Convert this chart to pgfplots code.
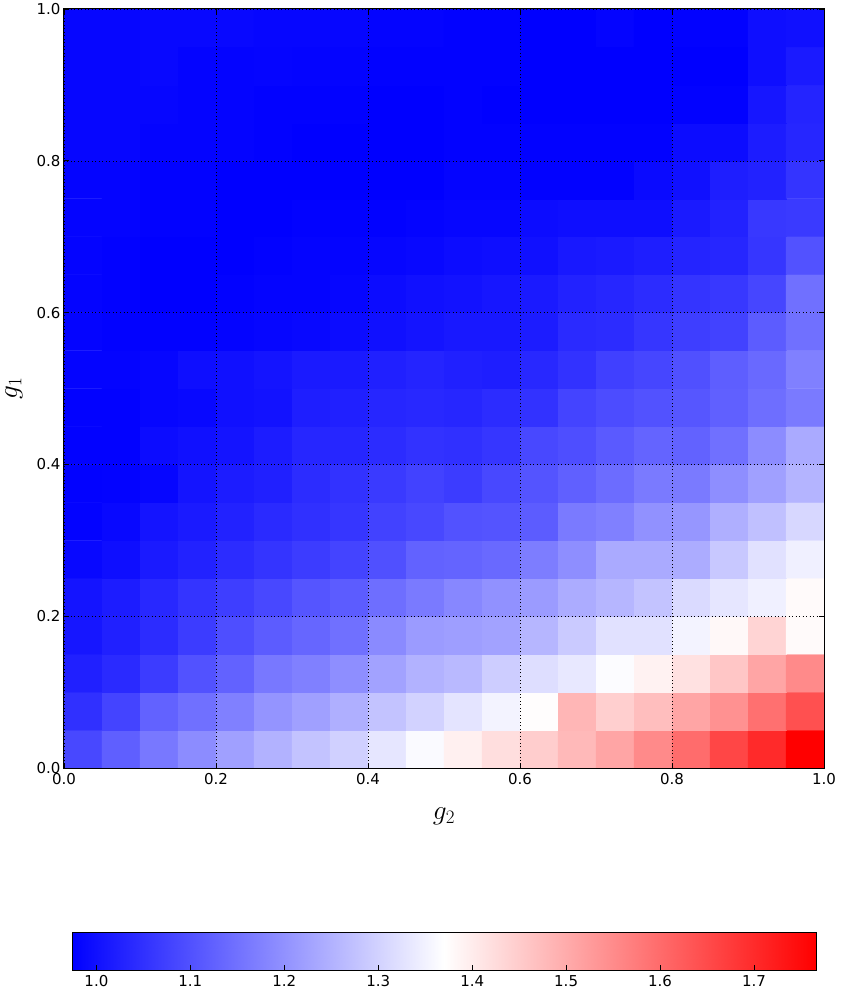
\documentclass[border=0pt]{standalone}
\usepackage{fontspec}
\setmainfont{DejaVu Sans}
\usepackage{pgfplots}
\pgfplotsset{compat=1.18}
\pgfplotsset{
  tick label style={font=\fontsize{15}{18}\selectfont},
  /pgf/number format/assume math mode=true,
  /pgf/number format/fixed,
  /pgf/number format/fixed zerofill,
  /pgf/number format/precision=1,
  colormap={bwr}{rgb=(0,0,1) rgb=(1,1,1) rgb=(1,0,0)},
}
\begin{document}
\begin{tikzpicture}
\useasboundingbox (-64pt,-230pt) rectangle (783pt,768pt);
\begin{axis}[
  at={(0,0)}, anchor=south west,
  scale only axis, width=760pt, height=759pt,
  xmin=0, xmax=1, ymin=0, ymax=1,
  xtick={0,0.2,0.4,0.6,0.8,1}, ytick={0,0.2,0.4,0.6,0.8,1},
  tick align=inside, major tick length=5pt,
  tick style={black,line width=0.7pt},
  axis line style={line width=1pt},
  xmajorgrids, ymajorgrids,
  grid style={black,line width=0.5pt,dash pattern=on 1pt off 2.5pt},
  axis on top,
  xlabel={\fontsize{24}{28}\selectfont $g_2$},
  ylabel={\fontsize{24}{28}\selectfont $g_1$},
  xlabel style={at={(axis description cs:0.5,0)},anchor=center,yshift=-48pt,scale=1.1},
  ylabel style={at={(axis description cs:0,0.5)},anchor=center,yshift=50pt,scale=1.1},
  xticklabel style={yshift=-2pt},
  point meta min=0.974, point meta max=1.766,
]
\addplot[matrix plot*, mesh/cols=20, point meta=explicit] table[row sep=\\, meta=v] {
x y v\\
0.025 0.025 1.086\\ 0.075 0.025 1.122\\ 0.125 0.025 1.160\\ 0.175 0.025 1.191\\ 0.225 0.025 1.222\\ 0.275 0.025 1.250\\ 0.325 0.025 1.277\\ 0.375 0.025 1.297\\ 0.425 0.025 1.331\\ 0.475 0.025 1.362\\ 0.525 0.025 1.393\\ 0.575 0.025 1.421\\ 0.625 0.025 1.448\\ 0.675 0.025 1.479\\ 0.725 0.025 1.510\\ 0.775 0.025 1.552\\ 0.825 0.025 1.598\\ 0.875 0.025 1.657\\ 0.925 0.025 1.701\\ 0.975 0.025 1.766\\
0.025 0.075 1.049\\ 0.075 0.075 1.080\\ 0.125 0.075 1.126\\ 0.175 0.075 1.148\\ 0.225 0.075 1.173\\ 0.275 0.075 1.204\\ 0.325 0.075 1.222\\ 0.375 0.075 1.246\\ 0.425 0.075 1.277\\ 0.475 0.075 1.300\\ 0.525 0.075 1.328\\ 0.575 0.075 1.351\\ 0.625 0.075 1.373\\ 0.675 0.075 1.483\\ 0.725 0.075 1.444\\ 0.775 0.075 1.471\\ 0.825 0.075 1.510\\ 0.875 0.075 1.541\\ 0.925 0.075 1.592\\ 0.975 0.075 1.642\\
0.025 0.125 1.024\\ 0.075 0.125 1.039\\ 0.125 0.125 1.067\\ 0.175 0.125 1.101\\ 0.225 0.125 1.126\\ 0.275 0.125 1.160\\ 0.325 0.125 1.173\\ 0.375 0.125 1.195\\ 0.425 0.125 1.226\\ 0.475 0.125 1.250\\ 0.525 0.125 1.261\\ 0.575 0.125 1.292\\ 0.625 0.125 1.319\\ 0.675 0.125 1.334\\ 0.725 0.125 1.365\\ 0.775 0.125 1.390\\ 0.825 0.125 1.417\\ 0.875 0.125 1.459\\ 0.925 0.125 1.510\\ 0.975 0.125 1.552\\
0.025 0.175 1.008\\ 0.075 0.175 1.024\\ 0.125 0.175 1.042\\ 0.175 0.175 1.067\\ 0.225 0.175 1.095\\ 0.275 0.175 1.117\\ 0.325 0.175 1.132\\ 0.375 0.175 1.148\\ 0.425 0.175 1.188\\ 0.475 0.175 1.215\\ 0.525 0.175 1.219\\ 0.575 0.175 1.226\\ 0.625 0.175 1.257\\ 0.675 0.175 1.288\\ 0.725 0.175 1.323\\ 0.775 0.175 1.323\\ 0.825 0.175 1.351\\ 0.875 0.175 1.381\\ 0.925 0.175 1.437\\ 0.975 0.175 1.378\\
0.025 0.225 1.005\\ 0.075 0.225 1.017\\ 0.125 0.225 1.036\\ 0.175 0.225 1.055\\ 0.225 0.225 1.070\\ 0.275 0.225 1.086\\ 0.325 0.225 1.106\\ 0.375 0.225 1.117\\ 0.425 0.225 1.145\\ 0.475 0.225 1.163\\ 0.525 0.225 1.184\\ 0.575 0.225 1.199\\ 0.625 0.225 1.215\\ 0.675 0.225 1.241\\ 0.725 0.225 1.257\\ 0.775 0.225 1.277\\ 0.825 0.225 1.313\\ 0.875 0.225 1.331\\ 0.925 0.225 1.347\\ 0.975 0.225 1.378\\
0.025 0.275 0.986\\ 0.075 0.275 0.996\\ 0.125 0.275 1.014\\ 0.175 0.275 1.027\\ 0.225 0.275 1.042\\ 0.275 0.275 1.055\\ 0.325 0.275 1.067\\ 0.375 0.275 1.080\\ 0.425 0.275 1.098\\ 0.475 0.275 1.126\\ 0.525 0.275 1.129\\ 0.575 0.275 1.137\\ 0.625 0.275 1.168\\ 0.675 0.275 1.195\\ 0.725 0.275 1.238\\ 0.775 0.275 1.238\\ 0.825 0.275 1.241\\ 0.875 0.275 1.285\\ 0.925 0.275 1.323\\ 0.975 0.275 1.347\\
0.025 0.325 0.979\\ 0.075 0.325 0.986\\ 0.125 0.325 1.005\\ 0.175 0.325 1.014\\ 0.225 0.325 1.027\\ 0.275 0.325 1.039\\ 0.325 0.325 1.049\\ 0.375 0.325 1.058\\ 0.425 0.325 1.076\\ 0.475 0.325 1.086\\ 0.525 0.325 1.101\\ 0.575 0.325 1.104\\ 0.625 0.325 1.117\\ 0.675 0.325 1.163\\ 0.725 0.325 1.173\\ 0.775 0.325 1.199\\ 0.825 0.325 1.207\\ 0.875 0.325 1.246\\ 0.925 0.325 1.272\\ 0.975 0.325 1.308\\
0.025 0.375 0.977\\ 0.075 0.375 0.979\\ 0.125 0.375 0.983\\ 0.175 0.375 1.005\\ 0.225 0.375 1.017\\ 0.275 0.375 1.024\\ 0.325 0.375 1.042\\ 0.375 0.375 1.052\\ 0.425 0.375 1.064\\ 0.475 0.375 1.076\\ 0.525 0.375 1.067\\ 0.575 0.375 1.086\\ 0.625 0.375 1.104\\ 0.675 0.375 1.123\\ 0.725 0.375 1.142\\ 0.775 0.375 1.163\\ 0.825 0.375 1.163\\ 0.875 0.375 1.195\\ 0.925 0.375 1.222\\ 0.975 0.375 1.254\\
0.025 0.425 0.977\\ 0.075 0.425 0.977\\ 0.125 0.425 0.993\\ 0.175 0.425 0.999\\ 0.225 0.425 1.005\\ 0.275 0.425 1.017\\ 0.325 0.425 1.033\\ 0.375 0.425 1.033\\ 0.425 0.425 1.042\\ 0.475 0.425 1.052\\ 0.525 0.425 1.049\\ 0.575 0.425 1.058\\ 0.625 0.425 1.086\\ 0.675 0.425 1.095\\ 0.725 0.425 1.114\\ 0.775 0.425 1.129\\ 0.825 0.425 1.126\\ 0.875 0.425 1.148\\ 0.925 0.425 1.191\\ 0.975 0.425 1.238\\
0.025 0.475 0.977\\ 0.075 0.475 0.977\\ 0.125 0.475 0.983\\ 0.175 0.475 0.986\\ 0.225 0.475 0.999\\ 0.275 0.475 1.002\\ 0.325 0.475 1.021\\ 0.375 0.475 1.024\\ 0.425 0.475 1.033\\ 0.475 0.475 1.036\\ 0.525 0.475 1.033\\ 0.575 0.475 1.042\\ 0.625 0.475 1.052\\ 0.675 0.475 1.080\\ 0.725 0.475 1.092\\ 0.775 0.475 1.101\\ 0.825 0.475 1.108\\ 0.875 0.475 1.123\\ 0.925 0.475 1.145\\ 0.975 0.475 1.163\\
0.025 0.525 0.980\\ 0.075 0.525 0.980\\ 0.125 0.525 0.983\\ 0.175 0.525 0.996\\ 0.225 0.525 0.999\\ 0.275 0.525 1.005\\ 0.325 0.525 1.014\\ 0.375 0.525 1.014\\ 0.425 0.525 1.024\\ 0.475 0.525 1.030\\ 0.525 0.525 1.024\\ 0.575 0.525 1.021\\ 0.625 0.525 1.036\\ 0.675 0.525 1.052\\ 0.725 0.525 1.073\\ 0.775 0.525 1.083\\ 0.825 0.525 1.098\\ 0.875 0.525 1.120\\ 0.925 0.525 1.137\\ 0.975 0.525 1.173\\
0.025 0.575 0.980\\ 0.075 0.575 0.977\\ 0.125 0.575 0.977\\ 0.175 0.575 0.977\\ 0.225 0.575 0.980\\ 0.275 0.575 0.983\\ 0.325 0.575 0.986\\ 0.375 0.575 0.993\\ 0.425 0.575 0.999\\ 0.475 0.575 1.005\\ 0.525 0.575 1.011\\ 0.575 0.575 1.011\\ 0.625 0.575 1.017\\ 0.675 0.575 1.039\\ 0.725 0.575 1.042\\ 0.775 0.575 1.058\\ 0.825 0.575 1.070\\ 0.875 0.575 1.076\\ 0.925 0.575 1.117\\ 0.975 0.575 1.148\\
0.025 0.625 0.980\\ 0.075 0.625 0.977\\ 0.125 0.625 0.974\\ 0.175 0.625 0.974\\ 0.225 0.625 0.977\\ 0.275 0.625 0.980\\ 0.325 0.625 0.980\\ 0.375 0.625 0.983\\ 0.425 0.625 0.993\\ 0.475 0.625 0.999\\ 0.525 0.625 1.002\\ 0.575 0.625 1.008\\ 0.625 0.625 1.014\\ 0.675 0.625 1.027\\ 0.725 0.625 1.033\\ 0.775 0.625 1.042\\ 0.825 0.625 1.055\\ 0.875 0.625 1.061\\ 0.925 0.625 1.083\\ 0.975 0.625 1.148\\
0.025 0.675 0.980\\ 0.075 0.675 0.977\\ 0.125 0.675 0.974\\ 0.175 0.675 0.974\\ 0.225 0.675 0.974\\ 0.275 0.675 0.977\\ 0.325 0.675 0.980\\ 0.375 0.675 0.980\\ 0.425 0.675 0.983\\ 0.475 0.675 0.986\\ 0.525 0.675 0.993\\ 0.575 0.675 0.996\\ 0.625 0.675 0.999\\ 0.675 0.675 1.011\\ 0.725 0.675 1.014\\ 0.775 0.675 1.021\\ 0.825 0.675 1.030\\ 0.875 0.675 1.033\\ 0.925 0.675 1.058\\ 0.975 0.675 1.101\\
0.025 0.725 0.980\\ 0.075 0.725 0.980\\ 0.125 0.725 0.977\\ 0.175 0.725 0.977\\ 0.225 0.725 0.974\\ 0.275 0.725 0.974\\ 0.325 0.725 0.977\\ 0.375 0.725 0.977\\ 0.425 0.725 0.977\\ 0.475 0.725 0.980\\ 0.525 0.725 0.983\\ 0.575 0.725 0.983\\ 0.625 0.725 0.993\\ 0.675 0.725 0.996\\ 0.725 0.725 0.996\\ 0.775 0.725 0.996\\ 0.825 0.725 1.014\\ 0.875 0.725 1.027\\ 0.925 0.725 1.061\\ 0.975 0.725 1.064\\
0.025 0.775 0.980\\ 0.075 0.775 0.980\\ 0.125 0.775 0.977\\ 0.175 0.775 0.977\\ 0.225 0.775 0.974\\ 0.275 0.775 0.974\\ 0.325 0.775 0.974\\ 0.375 0.775 0.974\\ 0.425 0.775 0.974\\ 0.475 0.775 0.974\\ 0.525 0.775 0.980\\ 0.575 0.775 0.980\\ 0.625 0.775 0.977\\ 0.675 0.775 0.977\\ 0.725 0.775 0.977\\ 0.775 0.775 0.990\\ 0.825 0.775 0.999\\ 0.875 0.775 1.021\\ 0.925 0.775 1.027\\ 0.975 0.775 1.055\\
0.025 0.825 0.983\\ 0.075 0.825 0.983\\ 0.125 0.825 0.980\\ 0.175 0.825 0.980\\ 0.225 0.825 0.980\\ 0.275 0.825 0.977\\ 0.325 0.825 0.974\\ 0.375 0.825 0.974\\ 0.425 0.825 0.974\\ 0.475 0.825 0.974\\ 0.525 0.825 0.977\\ 0.575 0.825 0.977\\ 0.625 0.825 0.977\\ 0.675 0.825 0.977\\ 0.725 0.825 0.977\\ 0.775 0.825 0.977\\ 0.825 0.825 0.993\\ 0.875 0.825 0.993\\ 0.925 0.825 1.017\\ 0.975 0.825 1.033\\
0.025 0.875 0.983\\ 0.075 0.875 0.983\\ 0.125 0.875 0.983\\ 0.175 0.875 0.980\\ 0.225 0.875 0.980\\ 0.275 0.875 0.977\\ 0.325 0.875 0.977\\ 0.375 0.875 0.977\\ 0.425 0.875 0.974\\ 0.475 0.875 0.974\\ 0.525 0.875 0.977\\ 0.575 0.875 0.974\\ 0.625 0.875 0.974\\ 0.675 0.875 0.974\\ 0.725 0.875 0.974\\ 0.775 0.875 0.974\\ 0.825 0.875 0.977\\ 0.875 0.875 0.977\\ 0.925 0.875 1.008\\ 0.975 0.875 1.030\\
0.025 0.925 0.983\\ 0.075 0.925 0.983\\ 0.125 0.925 0.986\\ 0.175 0.925 0.980\\ 0.225 0.925 0.980\\ 0.275 0.925 0.982\\ 0.325 0.925 0.980\\ 0.375 0.925 0.980\\ 0.425 0.925 0.977\\ 0.475 0.925 0.977\\ 0.525 0.925 0.977\\ 0.575 0.925 0.977\\ 0.625 0.925 0.974\\ 0.675 0.925 0.974\\ 0.725 0.925 0.974\\ 0.775 0.925 0.974\\ 0.825 0.925 0.974\\ 0.875 0.925 0.974\\ 0.925 0.925 0.996\\ 0.975 0.925 1.014\\
0.025 0.975 0.983\\ 0.075 0.975 0.983\\ 0.125 0.975 0.986\\ 0.175 0.975 0.986\\ 0.225 0.975 0.986\\ 0.275 0.975 0.983\\ 0.325 0.975 0.983\\ 0.375 0.975 0.983\\ 0.425 0.975 0.980\\ 0.475 0.975 0.980\\ 0.525 0.975 0.977\\ 0.575 0.975 0.977\\ 0.625 0.975 0.974\\ 0.675 0.975 0.974\\ 0.725 0.975 0.980\\ 0.775 0.975 0.974\\ 0.825 0.975 0.977\\ 0.875 0.975 0.977\\ 0.925 0.975 0.996\\ 0.975 0.975 0.999\\
};
\end{axis}
% colour bar as its own axis
\begin{axis}[
  at={(8pt,-202pt)}, anchor=south west,
  scale only axis, width=744pt, height=38pt,
  xmin=0.974, xmax=1.766, ymin=0, ymax=1,
  xtick={1.0,1.1,1.2,1.3,1.4,1.5,1.6,1.7}, ytick=\empty,
  xtick pos=bottom,
  tick align=inside, major tick length=5pt,
  tick style={black,line width=0.7pt},
  axis line style={line width=1pt},
  xticklabel style={yshift=-2pt},
  axis on top,
  point meta min=0.974, point meta max=1.766,
]
\addplot[surf, shader=interp, mesh/cols=3, point meta=x] table[row sep=\\] {
x y\\
0.974 0\\ 1.370 0\\ 1.766 0\\
0.974 1\\ 1.370 1\\ 1.766 1\\
};
\end{axis}
\end{tikzpicture}
\end{document}
